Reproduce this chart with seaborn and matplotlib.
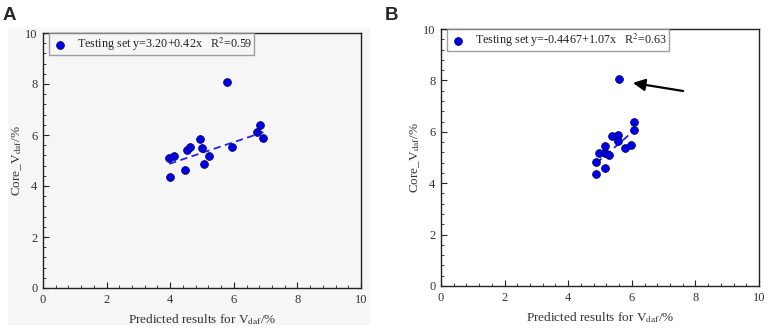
import matplotlib
matplotlib.use("Agg")
import matplotlib.pyplot as plt
import seaborn as sns
import numpy as np
import pandas as pd
from matplotlib.ticker import MultipleLocator

sns.set_theme(style="white")
plt.rcParams['font.family'] = ['Liberation Serif', 'DejaVu Serif']
plt.rcParams['mathtext.fontset'] = 'stix'

# Panel A data
a_pred = [3.97, 4.13, 4.00, 4.46, 4.53, 4.63, 4.93, 5.00, 5.05, 5.21, 5.78, 5.95, 6.74, 6.83, 6.93]
a_core = [5.11, 5.19, 4.34, 4.62, 5.40, 5.54, 5.85, 5.48, 4.85, 5.18, 8.08, 5.53, 6.10, 6.40, 5.89]
a_fit = (3.20, 0.42)
a_label = "Testing set y=3.20+0.42x   R$^2$=0.59"

# Panel B data
b_pred = [4.88, 4.88, 4.98, 5.17, 5.17, 5.17, 5.29, 5.38, 5.58, 5.58, 5.60, 5.78, 5.98, 6.08, 6.08]
b_core = [4.34, 4.84, 5.18, 4.59, 5.18, 5.45, 5.11, 5.85, 5.88, 5.66, 8.06, 5.37, 5.50, 6.06, 6.40]
b_fit = (-0.4467, 1.07)
b_label = "Testing set y=-0.4467+1.07x   R$^2$=0.63"

ticks = [0, 2, 4, 6, 8, 10]
xlabel = "Predicted results for V$_{\\mathrm{daf}}$/%"
ylabel = "Core_V$_{\\mathrm{daf}}$/%"

W, H = 768, 330
fig = plt.figure(figsize=(W / 100, H / 100), dpi=100)
fig.patch.set_facecolor('white')

# gray panel background for A
bg = fig.add_axes([8 / W, 1 - 325 / H, (370 - 8) / W, (325 - 28) / H], zorder=-10)
bg.set_facecolor('#f6f6f6')
bg.set_xticks([])
bg.set_yticks([])
for sp in bg.spines.values():
    sp.set_visible(False)

axA = fig.add_axes([43 / W, 1 - 288 / H, 318 / W, 255 / H], zorder=1)
axB = fig.add_axes([441 / W, 1 - 286 / H, 318 / W, 257 / H], zorder=1)

txtc = '#333333'
for ax, xs, ys, fit, lab, fc in [(axA, a_pred, a_core, a_fit, a_label, '#f6f6f6'),
                                 (axB, b_pred, b_core, b_fit, b_label, 'white')]:
    ax.set_facecolor(fc)
    df = pd.DataFrame({'x': xs, 'y': ys})
    xl = np.array([min(xs), max(xs)])
    fdf = pd.DataFrame({'x': xl, 'y': fit[0] + fit[1] * xl})
    sns.lineplot(data=fdf, x='x', y='y', ax=ax, color='#2222ee', lw=1.3,
                 linestyle=(0, (4, 2.5)), zorder=2)
    sns.scatterplot(data=df, x='x', y='y', ax=ax, color='#0000e6', s=32,
                    edgecolor='#000050', linewidth=0.5, label=lab, zorder=3)
    ax.set_xlim(0, 10)
    ax.set_ylim(0, 10)
    ax.set_xticks(ticks)
    ax.set_yticks(ticks)
    ax.xaxis.set_minor_locator(MultipleLocator(0.4))
    ax.yaxis.set_minor_locator(MultipleLocator(0.4))
    ax.tick_params(which='major', direction='in', length=4, width=0.8, color='#222222',
                   labelsize=9, labelcolor=txtc, bottom=True, left=True, top=False, right=False, pad=4)
    ax.tick_params(which='minor', direction='in', length=2.5, width=0.6, color='#222222',
                   bottom=True, left=True, top=False, right=False)
    for sp in ax.spines.values():
        sp.set_color('#222222')
        sp.set_linewidth(1.0)
    ax.set_xlabel(xlabel, fontsize=9.5, color=txtc, labelpad=5)
    ax.set_ylabel(ylabel, fontsize=9.5, color=txtc, labelpad=1)
    leg = ax.legend(loc='upper left', bbox_to_anchor=(0.018, 1.0), fontsize=8.7,
                    frameon=True, fancybox=False, edgecolor='#888888', borderaxespad=0,
                    handletextpad=0.6, borderpad=0.2, markerscale=1.0, handlelength=1.5)
    leg.get_frame().set_linewidth(1.0)
    leg.get_frame().set_facecolor(fc)
    for t in leg.get_texts():
        t.set_color('#222222')

axB.annotate('', xy=(5.95, 7.92), xytext=(7.7, 7.57),
             arrowprops=dict(arrowstyle='-|>', color='black', lw=1.6, mutation_scale=18))

fig.text(3 / W, 1 - 19.5 / H, 'A', fontsize=13.5, fontweight='bold',
         family=['Liberation Sans', 'DejaVu Sans'], va='baseline', ha='left')
fig.text(385 / W, 1 - 20 / H, 'B', fontsize=13.5, fontweight='bold',
         family=['Liberation Sans', 'DejaVu Sans'], va='baseline', ha='left')

fig.savefig('out.png', dpi=100)
